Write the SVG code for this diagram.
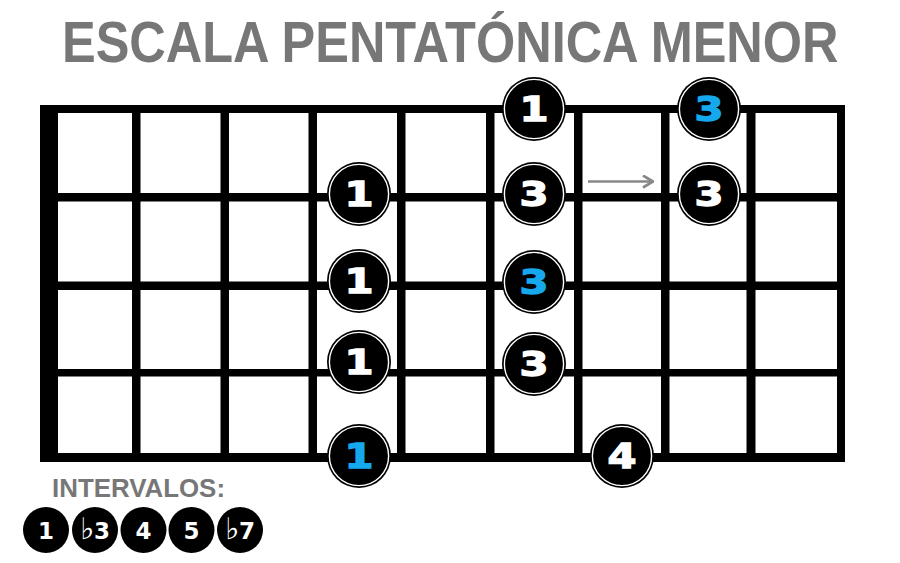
<svg xmlns="http://www.w3.org/2000/svg" width="900" height="563" viewBox="0 0 900 563">
  <defs>
    <style>
      .line { fill: #000; }
      .ring { fill: none; stroke: #fff; stroke-width: 1.4; }
      .dot { fill: #000; }
      .num { font-family: "DejaVu Sans", "Liberation Sans", sans-serif; font-weight: bold; font-size: 33px; text-anchor: middle; fill: #fff; stroke: #fff; stroke-width: 1.3; }
      .blue { fill: #16a8ec; stroke: #16a8ec; }
      .title { font-family: "Liberation Sans", Arial, sans-serif; font-weight: bold; fill: #777; }
      .lnum { font-family: "DejaVu Sans", "Liberation Sans", sans-serif; font-weight: bold; font-size: 23px; text-anchor: middle; fill: #fff; }
      .flat { font-family: "DejaVu Serif", "DejaVu Sans", serif; font-weight: normal; font-size: 30px; fill: #fff; }
    </style>
    <marker id="chev" viewBox="0 0 12 14" refX="11" refY="7" markerWidth="12" markerHeight="14" markerUnits="userSpaceOnUse" orient="auto">
      <path d="M1,1 L11,7 L1,13" fill="none" stroke="#888" stroke-width="2.7"/>
    </marker>
  </defs>
  <rect width="900" height="563" fill="#fff"/>

  <text class="title" transform="translate(62,62) scale(0.870,1)" x="0" y="0" font-size="58">ESCALA PENTATÓNICA MENOR</text>

  <g id="fretboard">
    <rect class="line" x="40" y="105" width="18" height="357"/>
    <rect class="line" x="40" y="105" width="805" height="8"/>
    <rect class="line" x="40" y="193" width="805" height="8.5"/>
    <rect class="line" x="40" y="281.5" width="805" height="8.5"/>
    <rect class="line" x="40" y="369" width="805" height="7.5"/>
    <rect class="line" x="40" y="453" width="805" height="9"/>
    <rect class="line" x="132" y="105" width="8.5" height="357"/>
    <rect class="line" x="220.5" y="105" width="8.5" height="357"/>
    <rect class="line" x="308.5" y="105" width="8.5" height="357"/>
    <rect class="line" x="397" y="105" width="8.5" height="357"/>
    <rect class="line" x="486" y="105" width="8.5" height="357"/>
    <rect class="line" x="574" y="105" width="8.5" height="357"/>
    <rect class="line" x="661" y="105" width="8.5" height="357"/>
    <rect class="line" x="746.5" y="105" width="9" height="357"/>
    <rect class="line" x="837" y="105" width="8" height="357"/>
  </g>

  <g id="connectors">
    <line x1="588" y1="181.5" x2="653" y2="181.5" stroke="#888" stroke-width="2.7" marker-end="url(#chev)"/>
  </g>

  <g id="n-r1-1">
    <circle class="dot" cx="534" cy="109" r="32"/>
    <circle class="ring" cx="534" cy="109" r="29.6"/>
    <text class="num" x="534" y="121" textLength="29" lengthAdjust="spacingAndGlyphs">1</text>
  </g>
  <g id="n-r1-3">
    <circle class="dot" cx="709" cy="109" r="32"/>
    <circle class="ring" cx="709" cy="109" r="29.6"/>
    <text class="num blue" x="709" y="121" textLength="29" lengthAdjust="spacingAndGlyphs">3</text>
  </g>
  <g id="n-r2-1">
    <circle class="dot" cx="359" cy="194" r="32"/>
    <circle class="ring" cx="359" cy="194" r="29.6"/>
    <text class="num" x="359" y="206" textLength="29" lengthAdjust="spacingAndGlyphs">1</text>
  </g>
  <g id="n-r2-3a">
    <circle class="dot" cx="534" cy="194" r="32"/>
    <circle class="ring" cx="534" cy="194" r="29.6"/>
    <text class="num" x="534" y="206" textLength="29" lengthAdjust="spacingAndGlyphs">3</text>
  </g>
  <g id="n-r2-3b">
    <circle class="dot" cx="709" cy="194" r="32"/>
    <circle class="ring" cx="709" cy="194" r="29.6"/>
    <text class="num" x="709" y="206" textLength="29" lengthAdjust="spacingAndGlyphs">3</text>
  </g>
  <g id="n-r3-1">
    <circle class="dot" cx="359" cy="281" r="32"/>
    <circle class="ring" cx="359" cy="281" r="29.6"/>
    <text class="num" x="359" y="293" textLength="29" lengthAdjust="spacingAndGlyphs">1</text>
  </g>
  <g id="n-r3-3">
    <circle class="dot" cx="534" cy="282" r="32"/>
    <circle class="ring" cx="534" cy="282" r="29.6"/>
    <text class="num blue" x="534" y="294" textLength="29" lengthAdjust="spacingAndGlyphs">3</text>
  </g>
  <g id="n-r4-1">
    <circle class="dot" cx="359" cy="362" r="32"/>
    <circle class="ring" cx="359" cy="362" r="29.6"/>
    <text class="num" x="359" y="374" textLength="29" lengthAdjust="spacingAndGlyphs">1</text>
  </g>
  <g id="n-r4-3">
    <circle class="dot" cx="534" cy="364" r="32"/>
    <circle class="ring" cx="534" cy="364" r="29.6"/>
    <text class="num" x="534" y="376" textLength="29" lengthAdjust="spacingAndGlyphs">3</text>
  </g>
  <g id="n-r5-1">
    <circle class="dot" cx="359" cy="456" r="32"/>
    <circle class="ring" cx="359" cy="456" r="29.6"/>
    <text class="num blue" x="359" y="468" textLength="29" lengthAdjust="spacingAndGlyphs">1</text>
  </g>
  <g id="n-r5-4">
    <circle class="dot" cx="622" cy="456" r="32"/>
    <circle class="ring" cx="622" cy="456" r="29.6"/>
    <text class="num" x="622" y="468" textLength="29" lengthAdjust="spacingAndGlyphs">4</text>
  </g>

  <g id="legend">
    <text class="title" x="52" y="497" font-size="26" textLength="173" lengthAdjust="spacingAndGlyphs">INTERVALOS:</text>
    <g id="l-1">
      <circle class="dot" cx="46" cy="530" r="23"/>
      <text class="lnum" x="46" y="538.5">1</text>
    </g>
    <g id="l-b3">
      <circle class="dot" cx="95" cy="530" r="23"/>
      <text class="lnum" x="95" y="538.5"><tspan class="flat">♭</tspan>3</text>
    </g>
    <g id="l-4">
      <circle class="dot" cx="143.5" cy="530" r="23"/>
      <text class="lnum" x="143.5" y="538.5">4</text>
    </g>
    <g id="l-5">
      <circle class="dot" cx="191.5" cy="530" r="23"/>
      <text class="lnum" x="191.5" y="538.5">5</text>
    </g>
    <g id="l-b7">
      <circle class="dot" cx="240" cy="530" r="23"/>
      <text class="lnum" x="240" y="538.5"><tspan class="flat">♭</tspan>7</text>
    </g>
  </g>
</svg>
